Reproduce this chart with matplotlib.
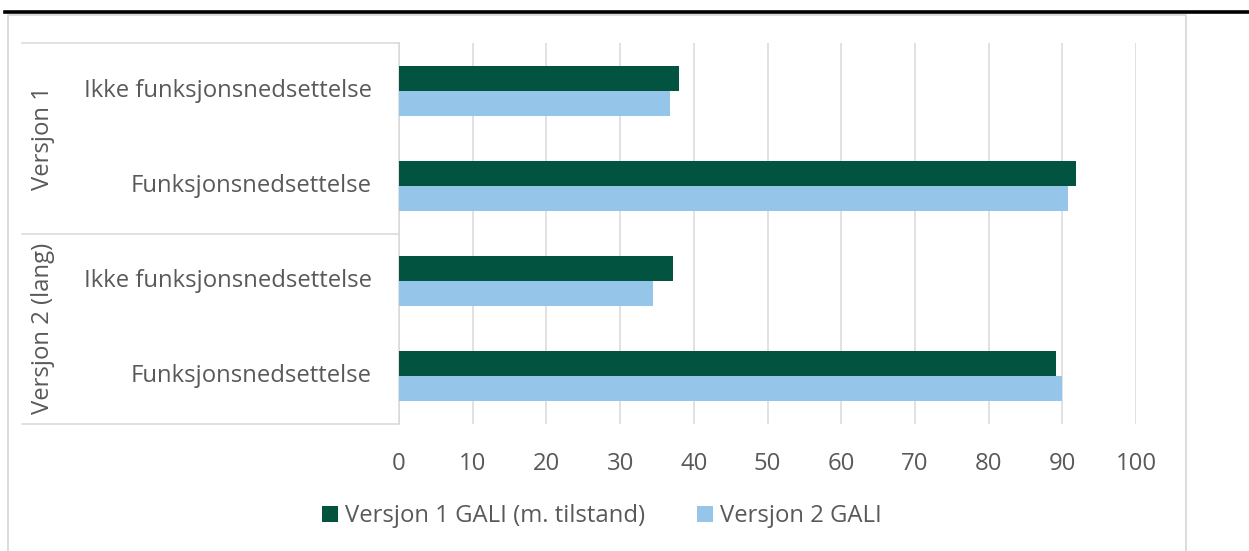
"""GALI horizontal bar chart, grouped by questionnaire version."""

import numpy as np
import matplotlib
matplotlib.use('Agg')
import matplotlib.pyplot as plt
from matplotlib.lines import Line2D
from matplotlib.patches import Patch

# --- data (top to bottom) ---
groups = ['Versjon 1', 'Versjon 2 (lang)']
categories = ['Ikke funksjonsnedsettelse', 'Funksjonsnedsettelse',
              'Ikke funksjonsnedsettelse', 'Funksjonsnedsettelse']
series_names = ['Versjon 1 GALI (m. tilstand)', 'Versjon 2 GALI']
v1_gali = [38.0, 91.8, 37.2, 89.1]
v2_gali = [36.8, 90.8, 34.4, 90.0]
xticks = [0, 10, 20, 30, 40, 50, 60, 70, 80, 90, 100]

DARK = '#02533F'
LIGHT = '#95C6EA'
TEXT = '#595959'
GRID = '#D9D9D9'
FS = 17.2

plt.rcParams['font.family'] = ['Open Sans', 'DejaVu Sans']

W, H = 1249, 551
fig = plt.figure(figsize=(W / 100, H / 100), dpi=100)
fig.patch.set_facecolor('white')

def fx(px):
    return px / W

def fy(py):
    return 1 - py / H

# axes: x 0..100 -> px 399..1136, rows from y 43 to 424
ax_l, ax_r, ax_t, ax_b = 399, 1136, 43, 424
ax = fig.add_axes([fx(ax_l), fy(ax_b), fx(ax_r - ax_l), (ax_b - ax_t) / H])

pos = np.arange(len(categories))
bh = 0.262
ax.barh(pos - bh / 2, v1_gali, height=bh, color=DARK, zorder=3)
ax.barh(pos + bh / 2, v2_gali, height=bh, color=LIGHT, zorder=3)

ax.set_xlim(0, 100)
ax.set_ylim(len(categories) - 0.5, -0.5)
ax.set_xticks(xticks)
ax.set_xticklabels([str(t) for t in xticks])
ax.set_yticks([])
ax.grid(axis='x', color=GRID, linewidth=1.1, zorder=0)
ax.tick_params(axis='x', length=0, pad=20, labelsize=FS, labelcolor=TEXT)
for s in ('top', 'right', 'bottom'):
    ax.spines[s].set_visible(False)
ax.spines['left'].set_color(GRID)
ax.spines['left'].set_linewidth(1.1)

# category labels
for p, c in zip(pos, categories):
    ax.text(-3.7, p, c, ha='right', va='center', fontsize=FS, color=TEXT)

# group separator lines and group labels
row_px = (ax_b - ax_t) / len(categories)
for yy in (ax_t, ax_t + 2 * row_px, ax_b):
    fig.add_artist(Line2D([fx(22), fx(ax_l)], [fy(yy), fy(yy)],
                          color=GRID, linewidth=1.1))
for i, g in enumerate(groups):
    yc = ax_t + (2 * i + 1) * row_px
    fig.text(fx(43), fy(yc), g, rotation=90, ha='center', va='center',
             fontsize=FS, color=TEXT)

# chart border and top rule
fig.add_artist(Line2D([fx(8), fx(8), fx(1186), fx(1186)],
                      [0, fy(15), fy(15), 0], color=GRID, linewidth=1.3))
fig.add_artist(Line2D([fx(5), 1], [fy(12), fy(12)], color='black', linewidth=2.6))

# legend
handles = [Patch(facecolor=DARK), Patch(facecolor=LIGHT)]
fig.legend(handles, series_names, loc='center', bbox_to_anchor=(fx(602), fy(516)),
           ncol=2, frameon=False, fontsize=FS, labelcolor=TEXT,
           handlelength=0.65, handleheight=0.65, handletextpad=0.3, columnspacing=2.2)

fig.savefig('out.png', dpi=100, facecolor='white')
